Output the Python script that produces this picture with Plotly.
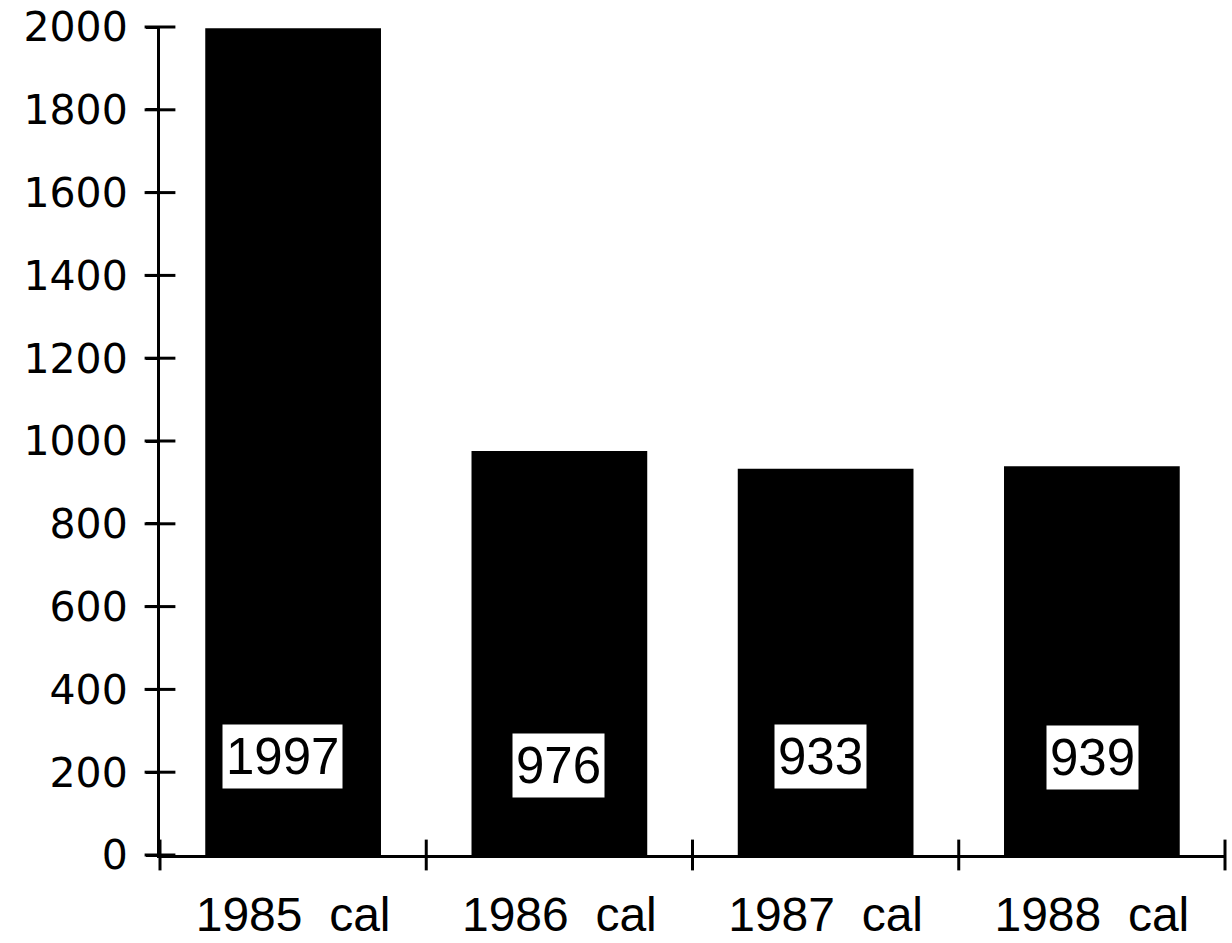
import plotly.graph_objects as go

categories = ["1985 cal", "1986 cal", "1987 cal", "1988 cal"]
values = [1997, 976, 933, 939]
label_texts = ["1997", "976", "933", "939"]
label_y = [237, 215, 237, 236]
label_xshift = [-11, -1, -5, 1]
y_ticks = [0, 200, 400, 600, 800, 1000, 1200, 1400, 1600, 1800, 2000]

LAB_FONT = "Liberation Sans"
Y_FONT = "DejaVu Sans"
tick_text = [c.replace(" ", "\u00a0\u00a0") for c in categories]

x_pos = list(range(len(categories)))
x_bounds = [i - 0.5 for i in range(len(categories) + 1)]
TICK = 22

fig = go.Figure()
fig.add_trace(go.Bar(x=x_pos, y=values, marker=dict(color="black", line=dict(width=0)),
                     showlegend=False, hoverinfo="skip"))
# crossing tick marks on the y axis
fig.add_trace(go.Scatter(x=[x_bounds[0]] * len(y_ticks), y=y_ticks, mode="markers",
                         marker=dict(symbol="line-ew", size=TICK, color="black",
                                     line=dict(width=3, color="black")),
                         cliponaxis=False, showlegend=False, hoverinfo="skip"))
# crossing tick marks on the x axis at category boundaries
fig.add_trace(go.Scatter(x=x_bounds, y=[0] * len(x_bounds), mode="markers",
                         marker=dict(symbol="line-ns", size=TICK, color="black",
                                     line=dict(width=3, color="black")),
                         cliponaxis=False, showlegend=False, hoverinfo="skip"))

for xp, t, ly, xs in zip(x_pos, label_texts, label_y, label_xshift):
    fig.add_annotation(x=xp, y=ly, text=t, showarrow=False, xshift=xs,
                       bgcolor="white", borderpad=3,
                       font=dict(family=LAB_FONT, size=51, color="black"))

axis_common = dict(showgrid=False, zeroline=False)
fig.update_layout(
    width=1232, height=943,
    margin=dict(l=160, r=7, t=27, b=88, autoexpand=False),
    paper_bgcolor="white", plot_bgcolor="rgba(0,0,0,0)",
    bargap=0.34,
    font=dict(family=LAB_FONT, size=43, color="black"),
    xaxis=dict(**axis_common, type="linear", range=[x_bounds[0], x_bounds[-1]],
               tickmode="array", tickvals=x_pos, ticktext=tick_text, ticks="",
               showline=True, linewidth=3, linecolor="black",
               tickfont=dict(family=LAB_FONT, size=48),
               ticklabelstandoff=15, ticklabeloverflow="allow", automargin=False),
    yaxis=dict(**axis_common, range=[0, 2000], tickmode="array", tickvals=y_ticks,
               ticks="outside", ticklen=11, tickwidth=3, tickcolor="black",
               showline=True, linewidth=3, linecolor="black",
               tickfont=dict(family=Y_FONT, size=41),
               ticklabelstandoff=10, ticklabeloverflow="allow", automargin=False),
)

fig.write_html("out.html", config={"displayModeBar": False},
               post_script="document.body.style.margin='0';")
